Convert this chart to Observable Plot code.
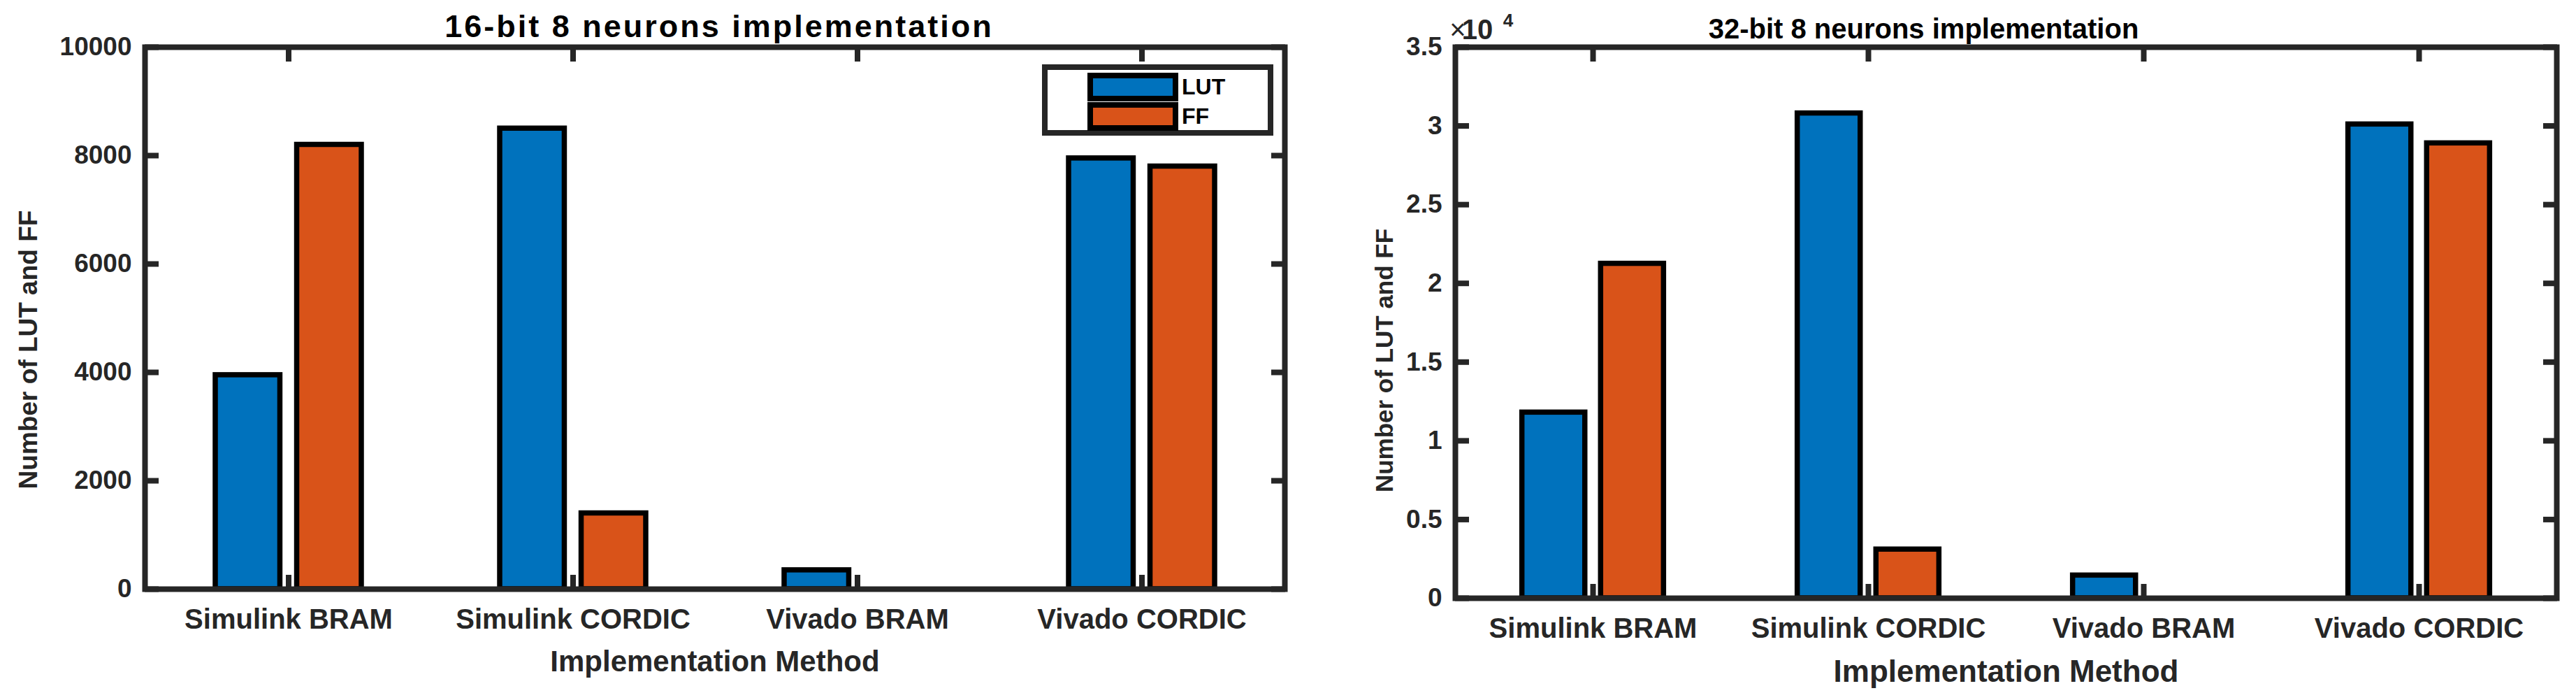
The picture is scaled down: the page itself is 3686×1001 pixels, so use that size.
<!DOCTYPE html>
<html>
<head>
<meta charset="utf-8">
<script src="https://cdn.jsdelivr.net/npm/d3@7"></script>
<script src="https://cdn.jsdelivr.net/npm/@observablehq/plot@0.6"></script>
<style>
  html, body { margin: 0; padding: 0; background: #fff; }
  #wrap { position: relative; width: 3686px; height: 1001px; overflow: hidden; background: #fff;
          font-family: "Liberation Sans", Arial, Helvetica, sans-serif; }
  .panel { position: absolute; top: 0; }
  .legend { position: absolute; box-sizing: border-box; border: 8px solid #262626; background: #fff; }
  .sw { position: absolute; box-sizing: border-box; border: 8px solid #000; }
  .lt { position: absolute; font-weight: bold; font-size: 32px; color: #000; line-height: 41px; }
</style>
</head>
<body>
<div id="wrap"></div>
<script>
// ---------- data ----------
const categories = ["Simulink BRAM", "Simulink CORDIC", "Vivado BRAM", "Vivado CORDIC"];
const seriesNames = ["LUT", "FF"];
const seriesColors = ["#0072BD", "#D95319"];
const lut16 = [3950, 8500, 350, 7950];
const ff16 = [8200, 1400, 0, 7800];
const lut32 = [11800, 30800, 1450, 30100];
const ff32 = [21250, 3100, 0, 28900];
const yTicks16 = [0, 2000, 4000, 6000, 8000, 10000];
const yTicks32 = [0, 5000, 10000, 15000, 20000, 25000, 30000, 35000];
const yTickLabels32 = ["0", "0.5", "1", "1.5", "2", "2.5", "3", "3.5"];
const titles = ["16-bit 8 neurons implementation", "32-bit 8 neurons implementation"];
const xLabel = "Implementation Method";
const yLabel = "Number of LUT and FF";
const exponentBase = "10";
const exponentPower = "4";

// ---------- styling ----------
const INK = "#262626";
const FONT = '"Liberation Sans", Arial, Helvetica, sans-serif';
const wrap = document.getElementById("wrap");

function buildPanel(o) {
  const {left, width, height, margin, lut, ff, yDomain, yTicks, yFormat, title} = o;
  const rows = [];
  categories.forEach((c, i) => {
    rows.push({cat: c, series: seriesNames[0], value: lut[i]});
    rows.push({cat: c, series: seriesNames[1], value: ff[i]});
  });
  const step = (width - margin.left - margin.right) / categories.length;
  const bw = 0.2286 * step, off = 0.1429 * step;
  const insets = [
    {insetLeft: step / 2 - off - bw / 2, insetRight: step / 2 + off - bw / 2},
    {insetLeft: step / 2 + off - bw / 2, insetRight: step / 2 - off - bw / 2}
  ];
  const bars = seriesNames.map((s, k) =>
    Plot.barY(rows.filter(d => d.series === s), {
      x: "cat", y: "value", fill: "series", stroke: "#000", strokeWidth: 7.5, ...insets[k]
    })
  );
  const chart = Plot.plot({
    width, height,
    marginLeft: margin.left, marginRight: margin.right, marginTop: margin.top, marginBottom: margin.bottom,
    style: {background: "transparent", color: INK, fontFamily: FONT, overflow: "visible"},
    x: {domain: categories, padding: 0},
    y: {domain: yDomain},
    color: {domain: seriesNames, range: seriesColors},
    marks: [
      ...bars,
      Plot.frame({stroke: INK, strokeWidth: 8}),
      Plot.axisX({anchor: "bottom", tickSize: -20, tickPadding: 48, strokeWidth: 8, label: null,
                  fontSize: 40, fontWeight: "bold", fontFamily: FONT}),
      Plot.axisX({anchor: "top", tickSize: -20, strokeWidth: 8, tickFormat: () => "", label: null}),
      Plot.axisY({anchor: "left", ticks: yTicks, tickFormat: yFormat, tickSize: -20, tickPadding: 39, strokeWidth: 8, label: null,
                  fontSize: o.yTickSize, fontWeight: "bold", fontFamily: FONT}),
      Plot.axisY({anchor: "right", ticks: yTicks, tickFormat: () => "", tickSize: -20, strokeWidth: 8, label: null}),
      Plot.text([title], {text: d => d, frameAnchor: "top", lineAnchor: "bottom", dx: o.titleDx, dy: o.titleDy,
                          fontSize: o.titleSize, fontWeight: "bold", fill: "#000", fontFamily: FONT}),
      Plot.text([xLabel], {text: d => d, frameAnchor: "bottom", lineAnchor: "top", dy: 88,
                           fontSize: o.xLabelSize, fontWeight: "bold", fill: INK, fontFamily: FONT}),
      Plot.text([yLabel], {text: d => d, frameAnchor: "left", textAnchor: "middle", lineAnchor: "middle", rotate: -90,
                           dx: o.yLabelDx, dy: o.yLabelDy, fontSize: o.yLabelSize, fontWeight: "bold", fill: INK, fontFamily: FONT})
    ]
  });
  if (o.titleSpacing) {
    d3.select(chart).selectAll("text").filter(function () { return this.textContent === title; })
      .style("letter-spacing", o.titleSpacing + "px");
  }
  const holder = document.createElement("div");
  holder.className = "panel";
  holder.style.left = left + "px";
  holder.appendChild(chart);
  wrap.appendChild(holder);
  return chart;
}

// left panel (16-bit)
buildPanel({
  left: 0, width: 1880, height: 1001,
  margin: {left: 207, right: 42, top: 67, bottom: 159},
  lut: lut16, ff: ff16, yDomain: [0, 10000], yTicks: yTicks16,
  yFormat: d => String(d), title: titles[0],
  titleSize: 45, titleSpacing: 3, titleDx: 6, titleDy: -15,
  xLabelSize: 42, yTickSize: 37,
  yLabelSize: 37, yLabelDx: -166, yLabelDy: 45
});

// right panel (32-bit)
const right = buildPanel({
  left: 1880, width: 1806, height: 1001,
  margin: {left: 202, right: 28, top: 67, bottom: 146},
  lut: lut32, ff: ff32, yDomain: [0, 35000], yTicks: yTicks32,
  yFormat: d => yTickLabels32[yTicks32.indexOf(d)], title: titles[1],
  titleSize: 40, titleSpacing: 0, titleDx: -118, titleDy: -13,
  xLabelSize: 44, yTickSize: 37,
  yLabelSize: 35, yLabelDx: -101, yLabelDy: 54
});

// exponent label (x10^4) on the right panel
const expG = d3.select(right).append("g").style("font-family", FONT).style("fill", INK);
expG.append("text").attr("x", 206).attr("y", 56)
  .style("font-size", "40px").style("font-weight", "normal").text("\u00D7");
expG.append("text").attr("x", 234).attr("y", 56)
  .style("font-size", "40px").style("font-weight", "bold").text(exponentBase);
expG.append("text").attr("x", 278).attr("y", 38)
  .style("font-size", "26px").style("font-weight", "bold").text(exponentPower);

// legend (left panel)
const legend = document.createElement("div");
legend.className = "legend";
Object.assign(legend.style, {left: "1491px", top: "92px", width: "331px", height: "102px"});
seriesNames.forEach((s, k) => {
  const sw = document.createElement("div");
  sw.className = "sw";
  Object.assign(sw.style, {left: "57px", top: (4 + 42 * k) + "px", width: "130px", height: "41px", background: seriesColors[k]});
  legend.appendChild(sw);
  const t = document.createElement("div");
  t.className = "lt";
  Object.assign(t.style, {left: "192px", top: (4 + 42 * k) + "px"});
  t.textContent = s;
  legend.appendChild(t);
});
wrap.appendChild(legend);
</script>
</body>
</html>
